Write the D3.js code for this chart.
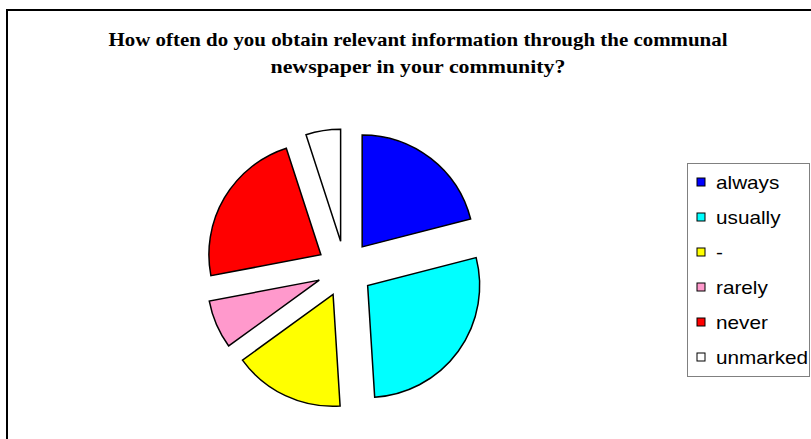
<!DOCTYPE html>
<html>
<head>
<meta charset="utf-8">
<script src="https://cdn.jsdelivr.net/npm/d3@7"></script>
<style>
  html, body { margin: 0; padding: 0; background: #fff; }
  svg { display: block; }
</style>
</head>
<body>
<svg id="chart" width="811" height="439"></svg>
<script>
const categories = ["always", "usually", "-", "rarely", "never", "unmarked"];
const values = [21, 28, 16, 7, 23, 5];
const colors = ["#0000FF", "#00FFFF", "#FFFF00", "#FF99CC", "#FF0000", "#FFFFFF"];
const titleLines = ["How often do you obtain relevant information through the communal", "newspaper in your community?"];

const svg = d3.select("#chart");

// outer frame (extends past the right and bottom edges)
svg.append("rect")
  .attr("x", 7).attr("y", 10)
  .attr("width", 820).attr("height", 450)
  .attr("fill", "#fff").attr("stroke", "#000").attr("stroke-width", 2);

// title
const titleWidths = [619, 295];
const title = svg.append("text")
  .attr("text-anchor", "middle")
  .attr("font-family", "'Liberation Serif', 'Times New Roman', serif")
  .attr("font-weight", "bold")
  .attr("font-size", 19.5);
titleLines.forEach((t, i) => {
  title.append("tspan")
    .attr("x", 418).attr("y", 45.5 + i * 27)
    .attr("textLength", titleWidths[i])
    .attr("lengthAdjust", "spacingAndGlyphs")
    .text(t);
});

// pie
const cx = 345, cy = 269, radius = 112, explode = 28;
const pie = d3.pie().sort(null).value(d => d.v).startAngle(0).endAngle(2 * Math.PI);
const arc = d3.arc().innerRadius(0).outerRadius(radius);
const data = categories.map((c, i) => ({ c, v: values[i], color: colors[i] }));

const g = svg.append("g").attr("transform", `translate(${cx},${cy})`);
g.selectAll("path")
  .data(pie(data))
  .join("path")
  .attr("d", arc)
  .attr("transform", d => {
    const m = (d.startAngle + d.endAngle) / 2;
    return `translate(${explode * Math.sin(m)},${-explode * Math.cos(m)})`;
  })
  .attr("fill", d => d.data.color)
  .attr("stroke", "#000")
  .attr("stroke-width", 1.5)
  .attr("stroke-linejoin", "miter");

// legend
const lg = svg.append("g");
lg.append("rect")
  .attr("x", 687.5).attr("y", 163.5)
  .attr("width", 122).attr("height", 213)
  .attr("fill", "#fff").attr("stroke", "#808080").attr("stroke-width", 1);

const item = lg.selectAll("g.item")
  .data(data)
  .join("g")
  .attr("class", "item")
  .attr("transform", (d, i) => `translate(0,${182.5 + i * 35})`);
item.append("rect")
  .attr("x", 697).attr("y", -4.5)
  .attr("width", 8).attr("height", 8)
  .attr("fill", d => d.color)
  .attr("stroke", "#000").attr("stroke-width", 1);
const labels = item.append("text")
  .attr("x", 716).attr("y", 6)
  .attr("font-family", "'Liberation Sans', Arial, sans-serif")
  .attr("font-size", 18.5)
  .attr("fill", "#000")
  .text(d => d.c);
labels.each(function() {
  const w = this.getComputedTextLength();
  d3.select(this).attr("textLength", w * 1.12).attr("lengthAdjust", "spacingAndGlyphs");
});
</script>
</body>
</html>
